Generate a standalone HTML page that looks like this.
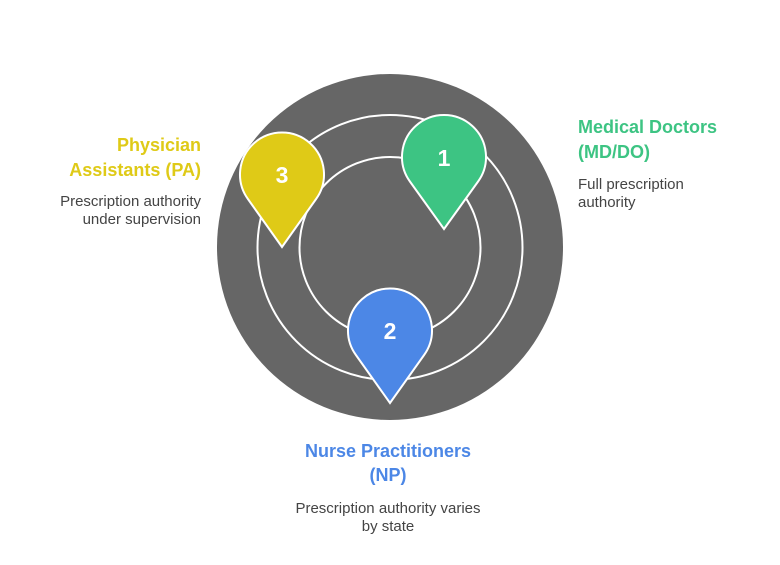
<!DOCTYPE html>
<html><head><meta charset="utf-8"><style>
body{margin:0;background:#fff;}
svg text{font-family:"Liberation Sans",sans-serif;}
</style></head><body>
<svg width="780" height="560" viewBox="0 0 780 560" xmlns="http://www.w3.org/2000/svg">
<circle cx="390" cy="247" r="173" fill="#666"/>
<circle cx="390" cy="247.5" r="132.5" fill="none" stroke="#fff" stroke-width="2"/>
<circle cx="390" cy="247.5" r="90.5" fill="none" stroke="#fff" stroke-width="2"/>
<path d="M444 229 L409.9 181.5 A42 42 0 1 1 478.1 181.5 Z" fill="#3dc483" stroke="#fff" stroke-width="2"/>
<path d="M282 247 L247.9 199 A42 42 0 1 1 316.1 199 Z" fill="#dfca17" stroke="#fff" stroke-width="2"/>
<path d="M390 403 L355.9 355 A42 42 0 1 1 424.1 355 Z" fill="#4c87e6" stroke="#fff" stroke-width="2"/>
<g font-weight="bold" font-size="23" fill="#fff" text-anchor="middle">
<text x="444" y="166">1</text><text x="282" y="183">3</text><text x="390" y="339">2</text>
</g>
<g font-weight="bold" font-size="18">
<text x="578" y="133" fill="#3dc483">Medical Doctors</text>
<text x="578" y="158" fill="#3dc483">(MD/DO)</text>
<text x="201" y="151" fill="#dfca17" text-anchor="end">Physician</text>
<text x="201" y="176" fill="#dfca17" text-anchor="end">Assistants (PA)</text>
<text x="388" y="457" fill="#4c87e6" text-anchor="middle">Nurse Practitioners</text>
<text x="388" y="481" fill="#4c87e6" text-anchor="middle">(NP)</text>
</g>
<g font-size="15" fill="#444">
<text x="578" y="189">Full prescription</text>
<text x="578" y="207">authority</text>
<text x="201" y="206" text-anchor="end">Prescription authority</text>
<text x="201" y="224" text-anchor="end">under supervision</text>
<text x="388" y="513" text-anchor="middle">Prescription authority varies</text>
<text x="388" y="531" text-anchor="middle">by state</text>
</g>
</svg>
</body></html>
